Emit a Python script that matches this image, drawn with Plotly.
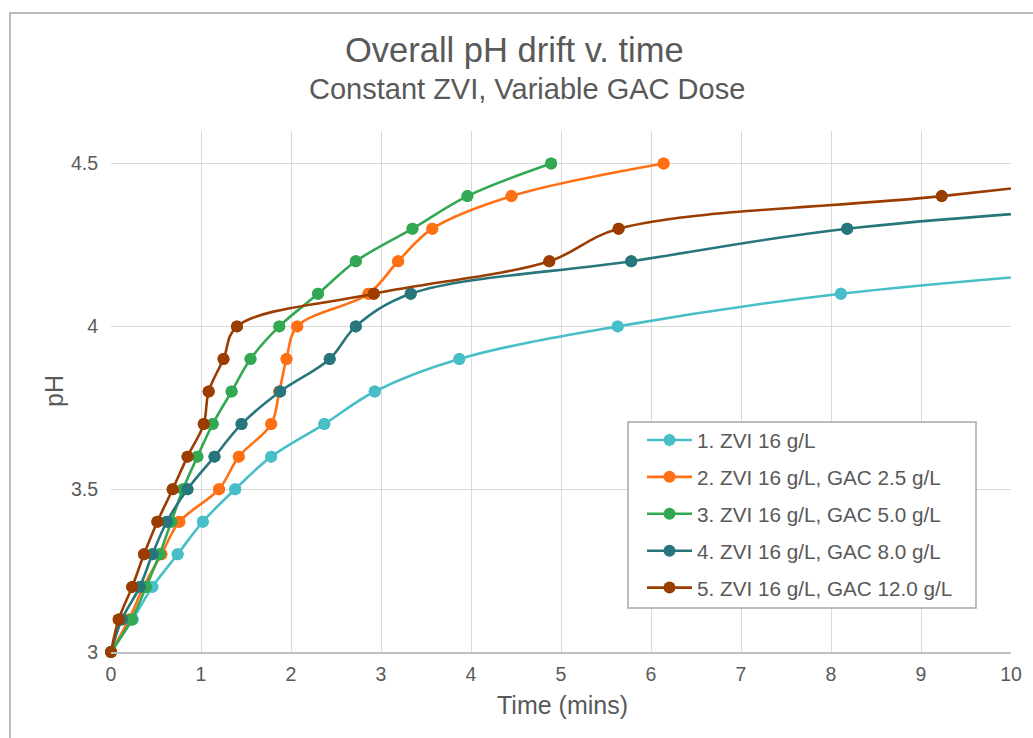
import plotly.graph_objects as go

# Time (mins) at which each pH reading was reached, per test series
time_zvi = [0, 0.24, 0.46, 0.74, 1.02, 1.38, 1.78, 2.37, 2.93, 3.87, 5.63, 8.11, 12.3]
ph_zvi = [3.0, 3.1, 3.2, 3.3, 3.4, 3.5, 3.6, 3.7, 3.8, 3.9, 4.0, 4.1, 4.2]

time_gac25 = [0, 0.20, 0.36, 0.56, 0.76, 1.20, 1.42, 1.78, 1.87, 1.95, 2.07, 2.86, 3.19, 3.57, 4.45, 6.14]
ph_gac25 = [3.0, 3.1, 3.2, 3.3, 3.4, 3.5, 3.6, 3.7, 3.8, 3.9, 4.0, 4.1, 4.2, 4.3, 4.4, 4.5]

time_gac50 = [0, 0.23, 0.39, 0.54, 0.67, 0.80, 0.96, 1.13, 1.34, 1.55, 1.87, 2.30, 2.72, 3.35, 3.96, 4.89]
ph_gac50 = [3.0, 3.1, 3.2, 3.3, 3.4, 3.5, 3.6, 3.7, 3.8, 3.9, 4.0, 4.1, 4.2, 4.3, 4.4, 4.5]

time_gac80 = [0, 0.12, 0.32, 0.46, 0.62, 0.85, 1.15, 1.45, 1.88, 2.43, 2.72, 3.33, 5.78, 8.18, 13.0]
ph_gac80 = [3.0, 3.1, 3.2, 3.3, 3.4, 3.5, 3.6, 3.7, 3.8, 3.9, 4.0, 4.1, 4.2, 4.3, 4.4]

time_gac120 = [0, 0.085, 0.235, 0.367, 0.515, 0.685, 0.85, 1.03, 1.085, 1.25, 1.40, 2.92, 4.87, 5.64, 9.23, 12.5]
ph_gac120 = [3.0, 3.1, 3.2, 3.3, 3.4, 3.5, 3.6, 3.7, 3.8, 3.9, 4.0, 4.1, 4.2, 4.3, 4.4, 4.5]

series_names = [
    "1. ZVI 16 g/L",
    "2. ZVI 16 g/L, GAC 2.5 g/L",
    "3. ZVI 16 g/L, GAC 5.0 g/L",
    "4. ZVI 16 g/L, GAC 8.0 g/L",
    "5. ZVI 16 g/L, GAC 12.0 g/L",
]
series_colors = ["#48BEC8", "#FF7014", "#33A852", "#26767B", "#9B3D00"]

x_ticks = [0, 1, 2, 3, 4, 5, 6, 7, 8, 9, 10]
y_ticks = [3, 3.5, 4, 4.5]
y_tick_text = ["3", "3.5", "4", "4.5"]
X_MAX = 10
Y_RANGE = [3, 4.6]

FONT = "Liberation Sans, Arial, sans-serif"
TEXT = "#595959"
MARKER = 12

series = [
    (time_zvi, ph_zvi),
    (time_gac25, ph_gac25),
    (time_gac50, ph_gac50),
    (time_gac80, ph_gac80),
    (time_gac120, ph_gac120),
]

fig = go.Figure()
for (t, ph), name, color in zip(series, series_names, series_colors):
    # smoothed line through every reading (later readings run off the axis)
    fig.add_trace(go.Scatter(
        x=t, y=ph, mode="lines+markers", name=name, legendgroup=name,
        line=dict(color=color, width=2.6, shape="spline", smoothing=1),
        marker=dict(color=color, size=MARKER),
        cliponaxis=True,
    ))
    # markers inside the axis range, left unclipped so the origin dots show whole
    t_in = [a for a in t if a <= X_MAX]
    ph_in = [b for a, b in zip(t, ph) if a <= X_MAX]
    fig.add_trace(go.Scatter(
        x=t_in, y=ph_in, mode="markers", showlegend=False, legendgroup=name,
        marker=dict(color=color, size=MARKER), cliponaxis=False, hoverinfo="skip",
    ))

W, H = 1033, 738
L, R, T, B = 111, 22, 131, 86
pw, ph_ = W - L - R, H - T - B


def px(xp):
    return (xp - L) / pw


def py(yp):
    return (H - B - yp) / ph_


fig.update_layout(
    width=W, height=H,
    margin=dict(l=L, r=R, t=T, b=B),
    paper_bgcolor="white", plot_bgcolor="white",
    font=dict(family=FONT, color=TEXT),
    showlegend=True,
    legend=dict(
        x=px(642), y=py(420), xanchor="left", yanchor="top",
        bgcolor="rgba(0,0,0,0)", borderwidth=0,
        font=dict(family=FONT, size=20.7, color=TEXT),
        tracegroupgap=7, itemwidth=45,
    ),
    xaxis=dict(
        range=[0, X_MAX], tickvals=x_ticks,
        showgrid=True, gridcolor="#D9D9D9", gridwidth=1.3,
        showline=True, linecolor="#BFBFBF", linewidth=1.5,
        zeroline=False, ticks="", ticklabelstandoff=4,
        tickfont=dict(size=19.5, color=TEXT),
    ),
    yaxis=dict(
        range=Y_RANGE, tickvals=y_ticks, ticktext=y_tick_text,
        showgrid=True, gridcolor="#D9D9D9", gridwidth=1.3,
        showline=False, zeroline=False, ticks="", ticklabelstandoff=12,
        tickfont=dict(size=19.5, color=TEXT),
    ),
    shapes=[
        # chart area frame
        dict(type="rect", xref="paper", yref="paper",
             x0=px(10), x1=px(1060), y0=py(760), y1=py(13),
             line=dict(color="#A6A6A6", width=1.5), fillcolor="rgba(0,0,0,0)",
             layer="below"),
        # legend box
        dict(type="rect", xref="paper", yref="paper",
             x0=px(628), x1=px(976), y0=py(608), y1=py(422),
             line=dict(color="#A6A6A6", width=1.5), fillcolor="white",
             layer="above"),
    ],
    annotations=[
        dict(text="Overall pH drift v. time", xref="paper", yref="paper",
             x=px(514), y=py(50), xanchor="center", yanchor="middle",
             showarrow=False, font=dict(size=34.5, color=TEXT, family=FONT)),
        dict(text="Constant ZVI, Variable GAC Dose", xref="paper", yref="paper",
             x=px(527), y=py(89), xanchor="center", yanchor="middle",
             showarrow=False, font=dict(size=29, color=TEXT, family=FONT)),
        dict(text="Time (mins)", xref="paper", yref="paper",
             x=px(562), y=py(705), xanchor="center", yanchor="middle",
             showarrow=False, font=dict(size=25, color=TEXT, family=FONT)),
        dict(text="pH", xref="paper", yref="paper",
             x=px(54), y=py(391), xanchor="center", yanchor="middle",
             textangle=-90, showarrow=False,
             font=dict(size=25, color=TEXT, family=FONT)),
    ],
)

fig.write_html("out.html")
